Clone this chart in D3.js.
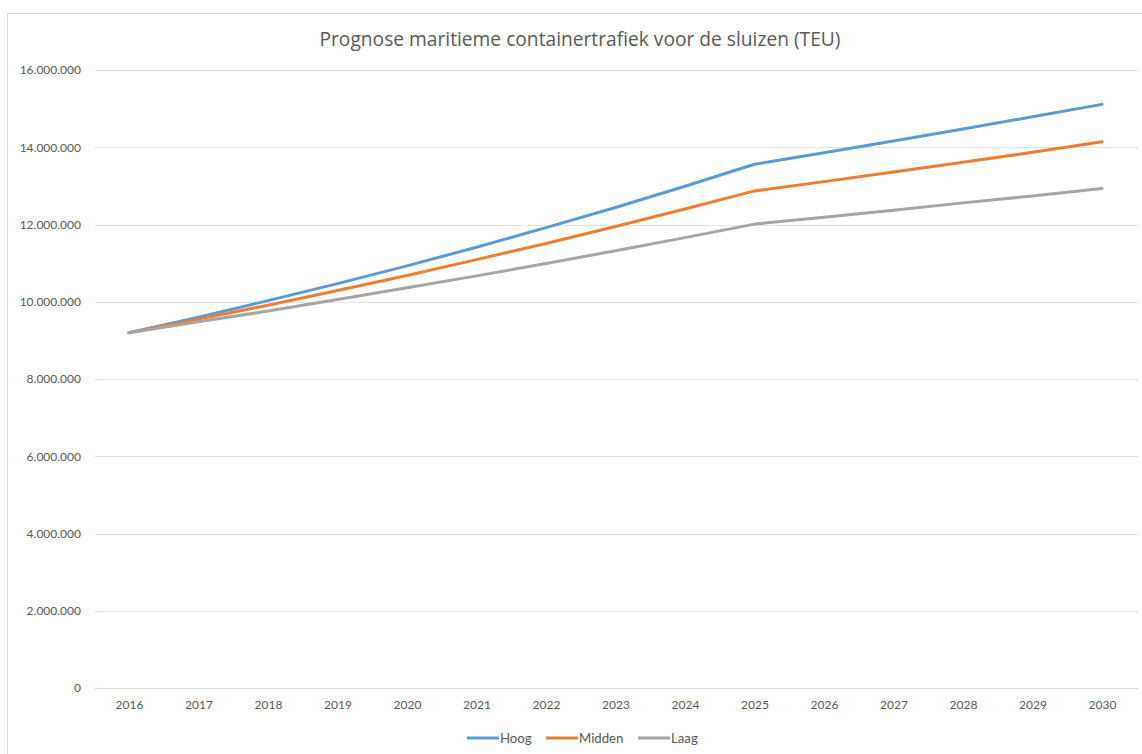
<!DOCTYPE html>
<html><head><meta charset="utf-8">
<script src="https://cdn.jsdelivr.net/npm/d3@7"></script>
<style>body{margin:0;background:#fff;} text{font-family:Lato,"Open Sans",sans-serif;}</style>
</head><body>
<svg id="c" width="1142" height="754"></svg>
<script>
const years = ["2016","2017","2018","2019","2020","2021","2022","2023","2024","2025","2026","2027","2028","2029","2030"];
const hoog   = [9.2, 9.6, 10.03, 10.47, 10.93, 11.41, 11.92, 12.44, 12.99, 13.56, 13.86, 14.16, 14.47, 14.79, 15.11];
const midden = [9.2, 9.55, 9.91, 10.29, 10.68, 11.09, 11.51, 11.95, 12.40, 12.87, 13.11, 13.36, 13.61, 13.87, 14.14];
const laag   = [9.2, 9.48, 9.76, 10.06, 10.36, 10.67, 10.99, 11.32, 11.66, 12.01, 12.19, 12.37, 12.56, 12.74, 12.93];
const yTicks = [0, 2e6, 4e6, 6e6, 8e6, 10e6, 12e6, 14e6, 16e6];
const seriesNames = ["Hoog", "Midden", "Laag"];
const colors = ["#5B9BD5", "#ED7D31", "#A5A5A5"];
const title = "Prognose maritieme containertrafiek voor de sluizen (TEU)";

const svg = d3.select("#c");
svg.append("rect").attr("x",7.5).attr("y",13.5).attr("width",1150).attr("height",760)
  .attr("fill","none").attr("stroke","#d9d9d9");

const x = d3.scalePoint().domain(years).range([129, 1102]).padding(0);
const y = d3.scaleLinear().domain([0, 16e6]).range([688, 70]);

const fmt = v => v === 0 ? "0" : d3.format(",")(v).replace(/,/g, ".");

// gridlines
svg.append("g").selectAll("line").data(yTicks).join("line")
  .attr("x1", 95).attr("x2", 1138)
  .attr("y1", d => Math.round(y(d)) + 0.5).attr("y2", d => Math.round(y(d)) + 0.5)
  .attr("stroke", d => d === 0 ? "#d9d9d9" : "#e3e3e3").attr("stroke-width", 1);

// y axis labels
const yAxis = d3.axisLeft(y).tickValues(yTicks).tickFormat(fmt).tickSize(0).tickPadding(0);
const ga = svg.append("g").attr("transform", "translate(81,0)").call(yAxis);
ga.select(".domain").remove();
ga.selectAll("text").attr("fill", "#595959").style("font-size", "12px").style("font-family","Lato,'Open Sans',sans-serif");

// x axis labels
const xAxis = d3.axisBottom(x).tickSize(0).tickPadding(0);
const gx = svg.append("g").attr("transform", "translate(0,700)").call(xAxis);
gx.select(".domain").remove();
gx.selectAll("text").attr("fill", "#595959").style("font-size", "12px").style("font-family","Lato,'Open Sans',sans-serif");

// lines
const data = [hoog, midden, laag];
const line = d3.line().x((d, i) => x(years[i])).y(d => y(d * 1e6));
svg.append("g").selectAll("path").data(data).join("path")
  .attr("d", line).attr("fill", "none")
  .attr("stroke", (d, i) => colors[i]).attr("stroke-width", 3)
  .attr("stroke-linejoin", "round").attr("stroke-linecap", "round");

// title
svg.append("text").attr("x", 580).attr("y", 46).attr("text-anchor", "middle")
  .attr("fill", "#595959").style("font-family", "'Open Sans',sans-serif").style("font-size", "19.2px").text(title);

// legend
const legX = [467, 546, 638];
const lg = svg.append("g");
seriesNames.forEach((n, i) => {
  lg.append("line").attr("x1", legX[i]).attr("x2", legX[i] + 32).attr("y1", 738).attr("y2", 738)
    .attr("stroke", colors[i]).attr("stroke-width", 3);
  lg.append("text").attr("x", legX[i] + 33).attr("y", 742.5).attr("fill", "#595959")
    .style("font-size", "13.2px").text(n);
});
</script>
</body></html>
